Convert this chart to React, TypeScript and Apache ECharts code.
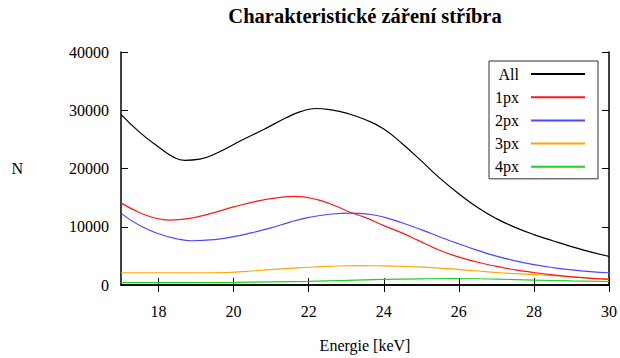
import React, { useEffect, useRef } from "react";
import * as echarts from "echarts";

// Energy [keV] and counts N for each series
const allEnergy = [17, 17.5, 18, 18.4, 18.7, 19.1, 19.6, 20.2, 20.8, 21.4, 21.8, 22.2, 22.6, 23, 23.5, 24, 24.5, 25, 25.5, 26, 26.5, 27, 27.5, 28, 28.5, 29, 29.5, 30];
const allCounts = [29300, 26200, 23700, 21950, 21400, 21600, 22800, 24800, 26700, 28700, 29800, 30300, 30050, 29500, 28400, 26800, 24200, 21300, 18300, 15650, 13300, 11400, 9900, 8650, 7600, 6600, 5700, 4900];

const px1Energy = [17, 17.5, 17.9, 18.3, 18.8, 19.4, 20, 20.7, 21.2, 21.6, 22.2, 22.7, 23.1, 23.5, 24, 24.5, 24.9, 25.4, 25.9, 26.5, 27, 27.5, 28, 28.5, 29, 29.5, 30];
const px1Counts = [14100, 12400, 11500, 11150, 11400, 12300, 13400, 14500, 15000, 15200, 14700, 13600, 12500, 11600, 10200, 8900, 7700, 6200, 5000, 3900, 3200, 2600, 2150, 1750, 1400, 1150, 950];

const px2Energy = [17, 17.5, 18, 18.5, 18.9, 19.5, 20, 20.5, 21, 21.5, 22, 22.5, 23.1, 23.6, 24, 24.5, 25, 25.5, 26, 26.5, 27, 27.5, 28, 28.5, 29, 29.5, 30];
const px2Counts = [12300, 10200, 8800, 7900, 7600, 7800, 8300, 9000, 9800, 10800, 11600, 12100, 12350, 12150, 11650, 10650, 9500, 8250, 7050, 5950, 4950, 4150, 3500, 3000, 2600, 2300, 2100];

const px3Energy = [17, 18, 19, 19.8, 20.5, 21, 21.5, 22, 22.5, 23.3, 24, 24.5, 25, 25.5, 26, 26.5, 27, 27.5, 28, 28.5, 29, 29.5, 30];
const px3Counts = [2100, 2100, 2100, 2150, 2400, 2650, 2850, 3050, 3200, 3330, 3280, 3200, 3080, 2900, 2650, 2400, 2150, 1950, 1800, 1600, 1400, 1200, 1050];

const px4Energy = [17, 18, 19, 20, 21, 22, 23, 24, 25, 25.8, 26.5, 27, 28, 29, 30];
const px4Counts = [400, 400, 420, 450, 530, 630, 780, 950, 1060, 1100, 1070, 1000, 850, 700, 600];

const seriesNames = ["All", "1px", "2px", "3px", "4px"];
const seriesColors = ["#000000", "#ff1a1a", "#4a4aff", "#ffa500", "#22d022"];
const xTicks = [18, 20, 22, 24, 26, 28, 30];

const FONT = "Liberation Serif";

export default function App() {
  const ref = useRef<HTMLDivElement>(null);
  useEffect(() => {
    document.body.style.margin = "0";
    if (!ref.current) return;
    const chart = echarts.init(ref.current, null, { renderer: "svg" });
    const xs = [allEnergy, px1Energy, px2Energy, px3Energy, px4Energy];
    const ys = [allCounts, px1Counts, px2Counts, px3Counts, px4Counts];
    const axisLine = { show: true, lineStyle: { color: "#000", width: 1.5 } };
    chart.setOption({
      animation: false,
      backgroundColor: "#fff",
      textStyle: { fontFamily: FONT },
      title: {
        text: "Charakteristické záření stříbra",
        left: 365,
        top: 5,
        textAlign: "center",
        padding: 0,
        textStyle: { fontFamily: FONT, fontWeight: "bold", fontSize: 20.5, color: "#000" },
      },
      grid: { left: 121, right: 11, top: 52, bottom: 67, containLabel: false },
      legend: {
        orient: "vertical",
        right: 22,
        top: 61,
        align: "right",
        padding: [5, 12, 4, 6],
        borderColor: "#333",
        borderWidth: 1,
        backgroundColor: "#fff",
        itemWidth: 54,
        itemHeight: 14,
        itemGap: 7.2,
        itemStyle: { opacity: 0 },
        data: seriesNames,
        textStyle: { fontFamily: FONT, fontSize: 16, color: "#000", padding: [0, 7, 0, 0] },
      },
      xAxis: [
        {
          type: "value",
          min: 17,
          max: 30,
          name: "Energie [keV]",
          nameLocation: "middle",
          nameGap: 52,
          nameTextStyle: { fontFamily: FONT, fontSize: 16, color: "#000" },
          axisLine,
          axisTick: { show: true, inside: true, length: 7, customValues: xTicks, lineStyle: { color: "#000", width: 1 } },
          axisLabel: { customValues: xTicks, margin: 18, fontFamily: FONT, fontSize: 16, color: "#000" },
          splitLine: { show: false },
        },
        {
          type: "value",
          position: "top",
          min: 17,
          max: 30,
          axisLine,
          axisTick: { show: true, inside: true, length: 7, customValues: xTicks, lineStyle: { color: "#000", width: 1 } },
          axisLabel: { show: false },
          splitLine: { show: false },
        },
      ],
      yAxis: [
        {
          type: "value",
          min: 0,
          max: 40000,
          interval: 10000,
          name: "N",
          nameLocation: "middle",
          nameRotate: 0,
          nameGap: 98,
          nameTextStyle: { fontFamily: FONT, fontSize: 16, color: "#000" },
          axisLine,
          axisTick: { show: true, inside: true, length: 7, lineStyle: { color: "#000", width: 1 } },
          axisLabel: { margin: 12, fontFamily: FONT, fontSize: 16, color: "#000", formatter: (v: number) => String(v) },
          splitLine: { show: false },
        },
        {
          type: "value",
          position: "right",
          min: 0,
          max: 40000,
          interval: 10000,
          axisLine,
          axisTick: { show: true, inside: true, length: 7, lineStyle: { color: "#000", width: 1 } },
          axisLabel: { show: false },
          splitLine: { show: false },
        },
      ],
      series: seriesNames.map((name, i) => ({
        name,
        type: "line",
        smooth: 0.5,
        showSymbol: false,
        symbol: "none",
        xAxisIndex: 0,
        yAxisIndex: 0,
        color: seriesColors[i],
        lineStyle: { color: seriesColors[i], width: 1.2 },
        data: xs[i].map((e, j) => [e, ys[i][j]]),
        z: 10 - i,
      })),
    });
    return () => chart.dispose();
  }, []);
  return <div ref={ref} style={{ width: 620, height: 358 }} />;
}
